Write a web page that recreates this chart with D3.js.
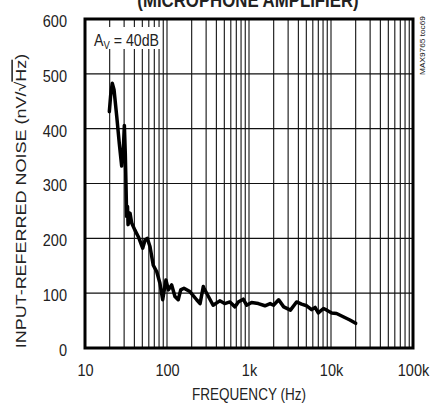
<!DOCTYPE html>
<html>
<head>
<meta charset="utf-8">
<script src="https://cdn.jsdelivr.net/npm/d3@7"></script>
<style>
  html, body { margin: 0; padding: 0; background: #fff; }
  svg { display: block; }
  text { font-family: "Liberation Sans", Arial, sans-serif; fill: #222; }
</style>
</head>
<body>
<div id="chart"></div>
<script>
// ---- data ----
const freqHz = [19.8, 20.5, 21.5, 22.6, 24.4, 26.2, 28, 29.3, 30.2, 31, 31.6, 32.2, 33, 33.5, 35.4, 37.1, 40.6, 44.7, 50.5, 54, 57.5, 62, 68, 75, 82, 88.6, 97, 104, 114, 125, 137, 147, 161, 190, 230, 253, 277, 283, 320, 365, 440, 505, 585, 675, 740, 850, 935, 1075, 1300, 1565, 1810, 1990, 2300, 2650, 3200, 3800, 4380, 5050, 5800, 6400, 7000, 8100, 8900, 10200, 11700, 14100, 17000, 20000];
const noiseNv = [431, 459, 483, 471, 422, 373, 332, 361, 406, 355, 300, 240, 258, 225, 246, 228, 215, 203, 182, 197, 200, 185, 151, 139, 118, 88, 124, 106, 115, 94, 88, 106, 109, 103, 88, 81, 112, 109, 94, 78, 86, 81, 84, 75, 84, 89, 78, 83, 81, 77, 81, 78, 88, 75, 69, 84, 80, 77, 70, 74, 64, 72, 69, 64, 63, 57, 51, 45];
const xTickValues = [10, 100, 1000, 10000, 100000];
const xTickLabels = ["10", "100", "1k", "10k", "100k"];
const yTickValues = [0, 100, 200, 300, 400, 500, 600];
const titleText = "(MICROPHONE AMPLIFIER)";
const xTitle = "FREQUENCY (Hz)";
const noteText = "MAX9765 toc69";

// ---- layout ----
const W = 432, H = 404;
const L = 85, R = 413, T = 19, B = 348;

const svg = d3.select("#chart").append("svg").attr("width", W).attr("height", H);

const x = d3.scaleLog().domain([10, 100000]).range([L, R]);
const y = d3.scaleLinear().domain([0, 600]).range([B, T]);

// minor + major vertical grid
const vGrid = [];
for (let d = 10; d < 100000; d *= 10) for (let k = 1; k <= 9; k++) vGrid.push(d * k);
svg.append("g").selectAll("line").data(vGrid.filter(v => v > 10 && v < 100000)).join("line")
  .attr("x1", d => x(d)).attr("x2", d => x(d)).attr("y1", T).attr("y2", B)
  .attr("stroke", "#111").attr("stroke-width", 1.1);
svg.append("g").selectAll("line").data(yTickValues.filter(v => v > 0 && v < 600)).join("line")
  .attr("x1", L).attr("x2", R).attr("y1", d => y(d)).attr("y2", d => y(d))
  .attr("stroke", "#111").attr("stroke-width", 1.1);

// legend box (covers grid)
svg.append("rect").attr("x", L).attr("y", 27).attr("width", 77).attr("height", 22).attr("fill", "#fff");
const lg = svg.append("text").attr("transform", "translate(94,45.5) scale(0.86,1)").attr("font-size", 16.5);
lg.append("tspan").text("A");
lg.append("tspan").attr("font-size", 11).attr("dy", 3).text("V");
lg.append("tspan").attr("dy", -3).text(" = 40dB");

// curve
const line = d3.line().x((d, i) => x(freqHz[i])).y(d => y(d));
svg.append("path").datum(noiseNv).attr("d", line)
  .attr("fill", "none").attr("stroke", "#000").attr("stroke-width", 3.5)
  .attr("stroke-linejoin", "round").attr("stroke-linecap", "round");

// frame
svg.append("rect").attr("x", L).attr("y", T).attr("width", R - L).attr("height", B - T)
  .attr("fill", "none").attr("stroke", "#000").attr("stroke-width", 3);

// axes (labels only)
const xAxis = d3.axisBottom(x).tickValues(xTickValues).tickFormat((d, i) => xTickLabels[i]).tickSize(0).tickPadding(0);
const gx = svg.append("g").attr("transform", `translate(0,${B})`).call(xAxis);
gx.select(".domain").remove();
gx.selectAll("text").attr("y", 0).attr("dy", 0).attr("transform", "translate(0,28) scale(0.88,1)")
  .attr("font-size", 16.5).attr("fill", "#222")
  .style("font-family", '"Liberation Sans", Arial, sans-serif');

const yAxis = d3.axisLeft(y).tickValues(yTickValues).tickSize(0).tickPadding(0);
const gy = svg.append("g").attr("transform", `translate(67,0)`).call(yAxis);
gy.select(".domain").remove();
gy.selectAll("text").attr("x", 0).attr("dy", "0.45em").attr("transform", "scale(0.88,1)")
  .attr("font-size", 16.5).attr("fill", "#222")
  .style("font-family", '"Liberation Sans", Arial, sans-serif');

// axis titles
svg.append("text").attr("transform", `translate(${(L + R) / 2},400) scale(0.82,1)`)
  .attr("text-anchor", "middle").attr("font-size", 16.5).text(xTitle);

const yt = svg.append("text").attr("transform", `translate(26,201) rotate(-90) scale(1,0.85)`)
  .attr("text-anchor", "middle").attr("font-size", 18);
yt.append("tspan").text("INPUT-REFERRED NOISE (nV/√");
yt.append("tspan").style("text-decoration", "overline").text("Hz");
yt.append("tspan").text(")");

// clipped title
svg.append("text").attr("transform", "translate(248,7) scale(0.84,1)").attr("text-anchor", "middle")
  .attr("font-size", 20).attr("font-weight", "bold").attr("fill", "#000").text(titleText);

// side note
svg.append("text").attr("transform", `translate(425,75) rotate(-90) scale(1,0.9)`)
  .attr("font-size", 8.3).attr("fill", "#444").text(noteText);
</script>
</body>
</html>
